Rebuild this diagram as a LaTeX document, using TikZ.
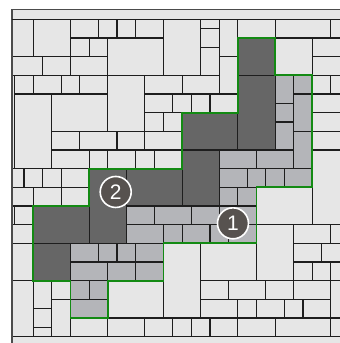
\documentclass[tikz,border=0pt]{standalone}
\usepackage{fontspec}
\setmainfont{Liberation Sans}
\definecolor{lite}{HTML}{E6E6E6}
\definecolor{midg}{HTML}{B4B5B9}
\definecolor{darkg}{HTML}{666666}
\definecolor{grn}{HTML}{138A13}
\definecolor{markc}{HTML}{57524F}
\definecolor{edgec}{HTML}{1E1E1E}
\begin{document}
\begin{tikzpicture}[x=9.3pt,y=-9.333pt,
  brick/.style={draw=edgec,line width=1.15pt},
  litebrick/.style={brick,fill=lite},
  midbrick/.style={brick,fill=midg},
  darkbrick/.style={brick,fill=darkg},
  frameline/.style={draw=black!70,line width=1.6pt},
  outline/.style={draw=grn,line width=1.8pt,line join=miter},
  marker/.style={circle,fill=markc,draw=white,line width=1.6pt,minimum size=31pt,inner sep=0pt,text=white,font=\fontsize{21}{21}\selectfont}]
\useasboundingbox (-3.581,-2.068) rectangle (32.871,34.683);
\fill[white] (-3.581,-2.068) rectangle (32.871,34.683);
\fill[lite] (-2.3,-1.05) rectangle (33.5,34.683);
% light bricks
\foreach \a/\b/\c/\d in {
-2.3/0/0/4, 0/0/4/4, 4/0/7/2, 7/0/9/2, 9/0/11/2, 11/0/14/2, 4/2/6/4, 6/2/8/4, 8/2/14/6,
-2.3/4/1/6, 1/4/4/6, 4/4/8/6, -2/6/0/8, 0/6/3/8, 3/6/5/8, 5/6/8/8, 8/6/12/12, -2/8/2/16,
2/8/8/12, 2/12/5/14, 5/12/9/14, 9/12/12/14, 2/14/6/16, 6/14/8/16, 8/14/11/16, 11/14/13/16,
13/14/16/16, 12/12/16/14, 12/10/14/12, 14/10/16/12, 12/8/15/10, 15/8/17/10, 17/8/19/10,
19/8/22/10, 12/6/16/8, 16/6/20/8, 20/4/22/8, 20/0/22/4, 18/0/20/1, 18/1/20/3, 18/3/20/6,
14/0/18/6, 22/0/26/2, 26/0/32/2, 32/0/33.5/2, 26/2/30/6, 30/2/33.5/4, 30/4/33.5/6,
30/6/32/8, 32/6/33.5/8, 30/8/33.5/10, 30/10/33.5/12, 30/12/33.5/14, 30/14/33.5/22,
-2.3/16/-1/18, -1/16/1/18, 1/16/3/18, 3/16/6/18, -2.3/18/0/20, 0/18/3/20, 3/18/6/20,
-2/20/0/22, -2.3/22/0/24, -2.3/24/0/28, -2.3/28/0/34, 0/28/2/31, 0/31/2/33, 0/33/2/34,
2/28/4/30, 2/30/4/34, 4/32/8/34, 8/32/12/34, 8/28/14/32, 12/32/15/34, 15/32/17/34,
17/32/19/34, 19/32/22/34, 22/32/26/34, 26/32/32/34, 32/32/33.5/34, 14/24/18/32,
18/24/24/28, 18/28/21/30, 21/28/25/30, 25/28/28/30, 28/28/32/30, 32/28/33.5/32,
18/30/22/32, 22/30/24/32, 24/30/27/32, 27/30/29/32, 29/30/32/32, 24/22/28/28,
28/22/32/24, 32/22/33.5/24, 28/24/31/26, 31/24/33.5/26, 28/26/30/28, 30/26/32/28,
32/26/33.5/28, 24/18/30/22}
  \path[litebrick] (\a,\b) rectangle (\c,\d);
% medium bricks
\foreach \a/\b/\c/\d in {
26/6/28/9, 26/9/28/11, 26/11/28/14, 28/6/30/8, 28/8/30/12, 28/12/30/16, 20/14/24/16,
24/14/28/16, 20/16/23/18, 23/16/25/18, 25/16/27/18, 27/16/30/18, 20/18/22/20, 22/18/24/20,
10/20/13/22, 13/20/17/22, 17/20/20/22, 20/20/24/22, 10/22/14/24, 14/22/16/24, 16/22/19/24,
19/22/21/24, 21/22/24/24, 4/24/7/26, 7/24/9/26, 9/24/11/26, 11/24/14/26, 4/26/8/28,
8/26/11/28, 11/26/14/28, 4/28/6/30, 6/28/8/30, 4/30/8/32}
  \path[midbrick] (\a,\b) rectangle (\c,\d);
% dark bricks
\foreach \a/\b/\c/\d in {
22/2/26/6, 22/6/26/14, 16/10/22/14, 16/14/20/20, 10/16/16/20, 6/16/10/24, 0/20/6/24, 0/24/4/28}
  \path[darkbrick] (\a,\b) rectangle (\c,\d);
% frame
\path[frameline] (-2.3,34.683) -- (-2.3,-1.05) -- (33.5,-1.05);
\path[brick] (-2.3,0) -- (33.5,0);
% outline of the marked region
\path[outline] (22,2) -- (26,2) -- (26,6) -- (30,6) -- (30,18) -- (24,18) -- (24,24)
  -- (14,24) -- (14,28) -- (8,28) -- (8,32) -- (4,32) -- (4,28) -- (0,28) -- (0,20)
  -- (6,20) -- (6,16) -- (16,16) -- (16,10) -- (22,10) -- cycle;
% markers
\node[marker] (m1) at (21.47,21.86) {1};
\node[marker] (m2) at (8.86,18.5) {2};
\end{tikzpicture}
\end{document}
